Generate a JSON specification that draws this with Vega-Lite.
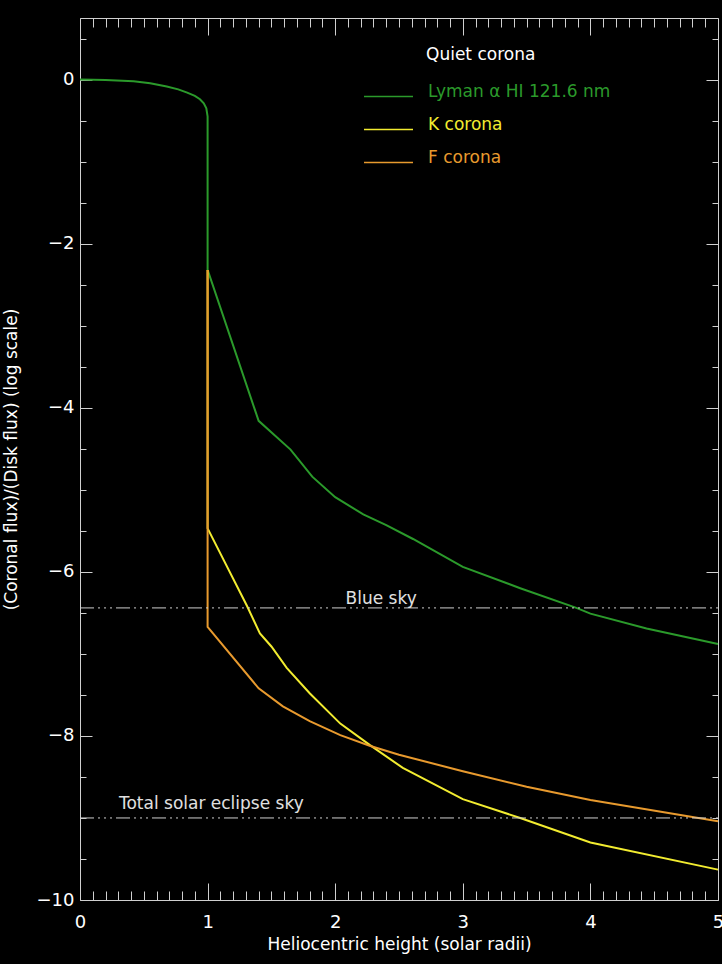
{
  "$schema": "https://vega.github.io/schema/vega-lite/v6.json",
  "width": 638,
  "height": 882,
  "autosize": {"type": "none"},
  "padding": {"left": 80, "top": 18, "right": 4, "bottom": 64},
  "background": "black",
  "config": {
    "view": {"stroke": null},
    "font": "DejaVu Sans",
    "axis": {
      "grid": false,
      "domainColor": "#d0d0d0",
      "tickColor": "#d0d0d0",
      "labelColor": "white",
      "titleColor": "white",
      "labelFont": "DejaVu Sans",
      "titleFont": "DejaVu Sans",
      "labelFontSize": 18,
      "titleFontSize": 17,
      "titleFontWeight": "normal",
      "domainWidth": 1,
      "tickWidth": 1
    }
  },
  "resolve": {"axis": {"x": "independent", "y": "independent"}},
  "layer": [
    {
      "data": {
        "values": [
          {"series": "Lyman α HI 121.6 nm", "h": 0, "logf": 0},
          {"series": "Lyman α HI 121.6 nm", "h": 0.2, "logf": -0.005},
          {"series": "Lyman α HI 121.6 nm", "h": 0.42, "logf": -0.02},
          {"series": "Lyman α HI 121.6 nm", "h": 0.55, "logf": -0.045},
          {"series": "Lyman α HI 121.6 nm", "h": 0.68, "logf": -0.085},
          {"series": "Lyman α HI 121.6 nm", "h": 0.77, "logf": -0.12},
          {"series": "Lyman α HI 121.6 nm", "h": 0.84, "logf": -0.16},
          {"series": "Lyman α HI 121.6 nm", "h": 0.9, "logf": -0.2},
          {"series": "Lyman α HI 121.6 nm", "h": 0.94, "logf": -0.24},
          {"series": "Lyman α HI 121.6 nm", "h": 0.97, "logf": -0.29},
          {"series": "Lyman α HI 121.6 nm", "h": 0.99, "logf": -0.35},
          {"series": "Lyman α HI 121.6 nm", "h": 1.0, "logf": -0.45},
          {"series": "Lyman α HI 121.6 nm", "h": 1.0, "logf": -2.32},
          {"series": "Lyman α HI 121.6 nm", "h": 1.4, "logf": -4.16},
          {"series": "Lyman α HI 121.6 nm", "h": 1.65, "logf": -4.51},
          {"series": "Lyman α HI 121.6 nm", "h": 1.82, "logf": -4.84},
          {"series": "Lyman α HI 121.6 nm", "h": 2.0, "logf": -5.09},
          {"series": "Lyman α HI 121.6 nm", "h": 2.22, "logf": -5.3},
          {"series": "Lyman α HI 121.6 nm", "h": 2.4, "logf": -5.43},
          {"series": "Lyman α HI 121.6 nm", "h": 2.61, "logf": -5.6},
          {"series": "Lyman α HI 121.6 nm", "h": 3.0, "logf": -5.94},
          {"series": "Lyman α HI 121.6 nm", "h": 3.45, "logf": -6.2},
          {"series": "Lyman α HI 121.6 nm", "h": 3.89, "logf": -6.44},
          {"series": "Lyman α HI 121.6 nm", "h": 4.0, "logf": -6.51},
          {"series": "Lyman α HI 121.6 nm", "h": 4.44, "logf": -6.69},
          {"series": "Lyman α HI 121.6 nm", "h": 5.0, "logf": -6.88},
          {"series": "K corona", "h": 1.0, "logf": -2.32},
          {"series": "K corona", "h": 1.0, "logf": -5.47},
          {"series": "K corona", "h": 1.31, "logf": -6.42},
          {"series": "K corona", "h": 1.41, "logf": -6.75},
          {"series": "K corona", "h": 1.5, "logf": -6.91},
          {"series": "K corona", "h": 1.62, "logf": -7.17},
          {"series": "K corona", "h": 1.8, "logf": -7.48},
          {"series": "K corona", "h": 2.04, "logf": -7.85},
          {"series": "K corona", "h": 2.27, "logf": -8.11},
          {"series": "K corona", "h": 2.53, "logf": -8.39},
          {"series": "K corona", "h": 3.0, "logf": -8.77},
          {"series": "K corona", "h": 3.45, "logf": -9.0},
          {"series": "K corona", "h": 4.0, "logf": -9.3},
          {"series": "K corona", "h": 5.0, "logf": -9.63},
          {"series": "F corona", "h": 1.0, "logf": -2.32},
          {"series": "F corona", "h": 1.0, "logf": -6.67},
          {"series": "F corona", "h": 1.4, "logf": -7.42},
          {"series": "F corona", "h": 1.59, "logf": -7.64},
          {"series": "F corona", "h": 1.8, "logf": -7.82},
          {"series": "F corona", "h": 2.04, "logf": -7.99},
          {"series": "F corona", "h": 2.27, "logf": -8.12},
          {"series": "F corona", "h": 2.5, "logf": -8.23},
          {"series": "F corona", "h": 3.0, "logf": -8.43},
          {"series": "F corona", "h": 3.5, "logf": -8.62},
          {"series": "F corona", "h": 4.0, "logf": -8.78},
          {"series": "F corona", "h": 5.0, "logf": -9.04}
        ]
      },
      "mark": {"type": "line", "strokeWidth": 2},
      "encoding": {
        "x": {
          "field": "h",
          "type": "quantitative",
          "scale": {"domain": [0, 5], "nice": false, "zero": false},
          "axis": {
            "orient": "bottom",
            "title": "Heliocentric height (solar radii)",
            "values": [0,0.1,0.2,0.3,0.4,0.5,0.6,0.7,0.8,0.9,1,1.1,1.2,1.3,1.4,1.5,1.6,1.7,1.8,1.9,2,2.1,2.2,2.3,2.4,2.5,2.6,2.7,2.8,2.9,3,3.1,3.2,3.3,3.4,3.5,3.6,3.7,3.8,3.9,4,4.1,4.2,4.3,4.4,4.5,4.6,4.7,4.8,4.9,5],
            "labelExpr": "abs(datum.value - round(datum.value)) < 0.01 ? format(datum.value, 'd') : ''",
            "tickSize": {"condition": {"test": "abs(datum.value - round(datum.value)) < 0.01", "value": -17}, "value": -9},
            "labelPadding": 30,
            "titlePadding": -3,
            "labelFlush": false,
            "labelOverlap": false
          }
        },
        "y": {
          "field": "logf",
          "type": "quantitative",
          "scale": {"domain": [-10, 0.75], "nice": false, "zero": false},
          "axis": {
            "orient": "left",
            "title": "(Coronal flux)/(Disk flux) (log scale)",
            "values": [-10,-9.5,-9,-8.5,-8,-7.5,-7,-6.5,-6,-5.5,-5,-4.5,-4,-3.5,-3,-2.5,-2,-1.5,-1,-0.5,0,0.5],
            "labelExpr": "abs(datum.value/2 - round(datum.value/2)) < 0.01 ? format(datum.value, 'd') : ''",
            "tickSize": {"condition": {"test": "abs(datum.value/2 - round(datum.value/2)) < 0.01", "value": -12}, "value": -6},
            "labelPadding": 18,
            "titlePadding": 16,
            "labelFlush": false,
            "labelOverlap": false
          }
        },
        "color": {
          "field": "series",
          "type": "nominal",
          "sort": ["Lyman α HI 121.6 nm", "K corona", "F corona"],
          "scale": {
            "domain": ["Lyman α HI 121.6 nm", "K corona", "F corona"],
            "range": ["#2b9a2b", "#f2ec30", "#e89a2e"]
          },
          "legend": {
            "orient": "none",
            "legendX": 283,
            "legendY": 29,
            "title": "Quiet corona",
            "titleColor": "white",
            "titleFont": "DejaVu Sans",
            "titleFontSize": 17,
            "titleFontWeight": "normal",
            "titlePadding": 7,
            "symbolType": "stroke",
            "symbolSize": 2400,
            "symbolStrokeWidth": 1.5,
            "labelFont": "DejaVu Sans",
            "labelFontSize": 17,
            "labelOffset": 14,
            "labelLimit": 400,
            "labelBaseline": "alphabetic",
            "rowPadding": 4,
            "padding": 0,
            "encode": {
              "labels": {"update": {"fill": {"scale": "color", "field": "value"}}},
              "title": {"update": {"dx": {"value": 63}}}
            }
          }
        }
      }
    },
    {
      "data": {
        "values": [
          {"label": "Blue sky", "level": -6.44},
          {"label": "Total solar eclipse sky", "level": -9.0}
        ]
      },
      "mark": {"type": "rule", "color": "#cfcfcf", "strokeWidth": 1, "strokeDash": [14, 4, 2, 4, 2, 4, 2, 4]},
      "encoding": {
        "x": {
          "datum": 0,
          "type": "quantitative",
          "axis": {
            "orient": "top",
            "title": null,
            "labels": false,
            "values": [0,0.1,0.2,0.3,0.4,0.5,0.6,0.7,0.8,0.9,1,1.1,1.2,1.3,1.4,1.5,1.6,1.7,1.8,1.9,2,2.1,2.2,2.3,2.4,2.5,2.6,2.7,2.8,2.9,3,3.1,3.2,3.3,3.4,3.5,3.6,3.7,3.8,3.9,4,4.1,4.2,4.3,4.4,4.5,4.6,4.7,4.8,4.9,5],
            "tickSize": {"condition": {"test": "abs(datum.value - round(datum.value)) < 0.01", "value": -17}, "value": -9}
          }
        },
        "x2": {"datum": 5},
        "y": {
          "field": "level",
          "type": "quantitative",
          "axis": {
            "orient": "right",
            "title": null,
            "labels": false,
            "values": [-10,-9.5,-9,-8.5,-8,-7.5,-7,-6.5,-6,-5.5,-5,-4.5,-4,-3.5,-3,-2.5,-2,-1.5,-1,-0.5,0,0.5],
            "tickSize": {"condition": {"test": "abs(datum.value/2 - round(datum.value/2)) < 0.01", "value": -12}, "value": -6}
          }
        }
      }
    },
    {
      "data": {"values": [{"label": "Blue sky", "level": -6.44}]},
      "mark": {"type": "text", "color": "#e0e0e0", "font": "DejaVu Sans", "fontSize": 17, "align": "center", "baseline": "alphabetic", "dy": -4},
      "encoding": {
        "x": {"datum": 2.36, "type": "quantitative", "axis": null},
        "y": {"field": "level", "type": "quantitative", "axis": null},
        "text": {"field": "label"}
      }
    },
    {
      "data": {"values": [{"label": "Total solar eclipse sky", "level": -9.0}]},
      "mark": {"type": "text", "color": "#e0e0e0", "font": "DejaVu Sans", "fontSize": 17, "align": "left", "baseline": "alphabetic", "dy": -9},
      "encoding": {
        "x": {"datum": 0.305, "type": "quantitative", "axis": null},
        "y": {"field": "level", "type": "quantitative", "axis": null},
        "text": {"field": "label"}
      }
    }
  ]
}
